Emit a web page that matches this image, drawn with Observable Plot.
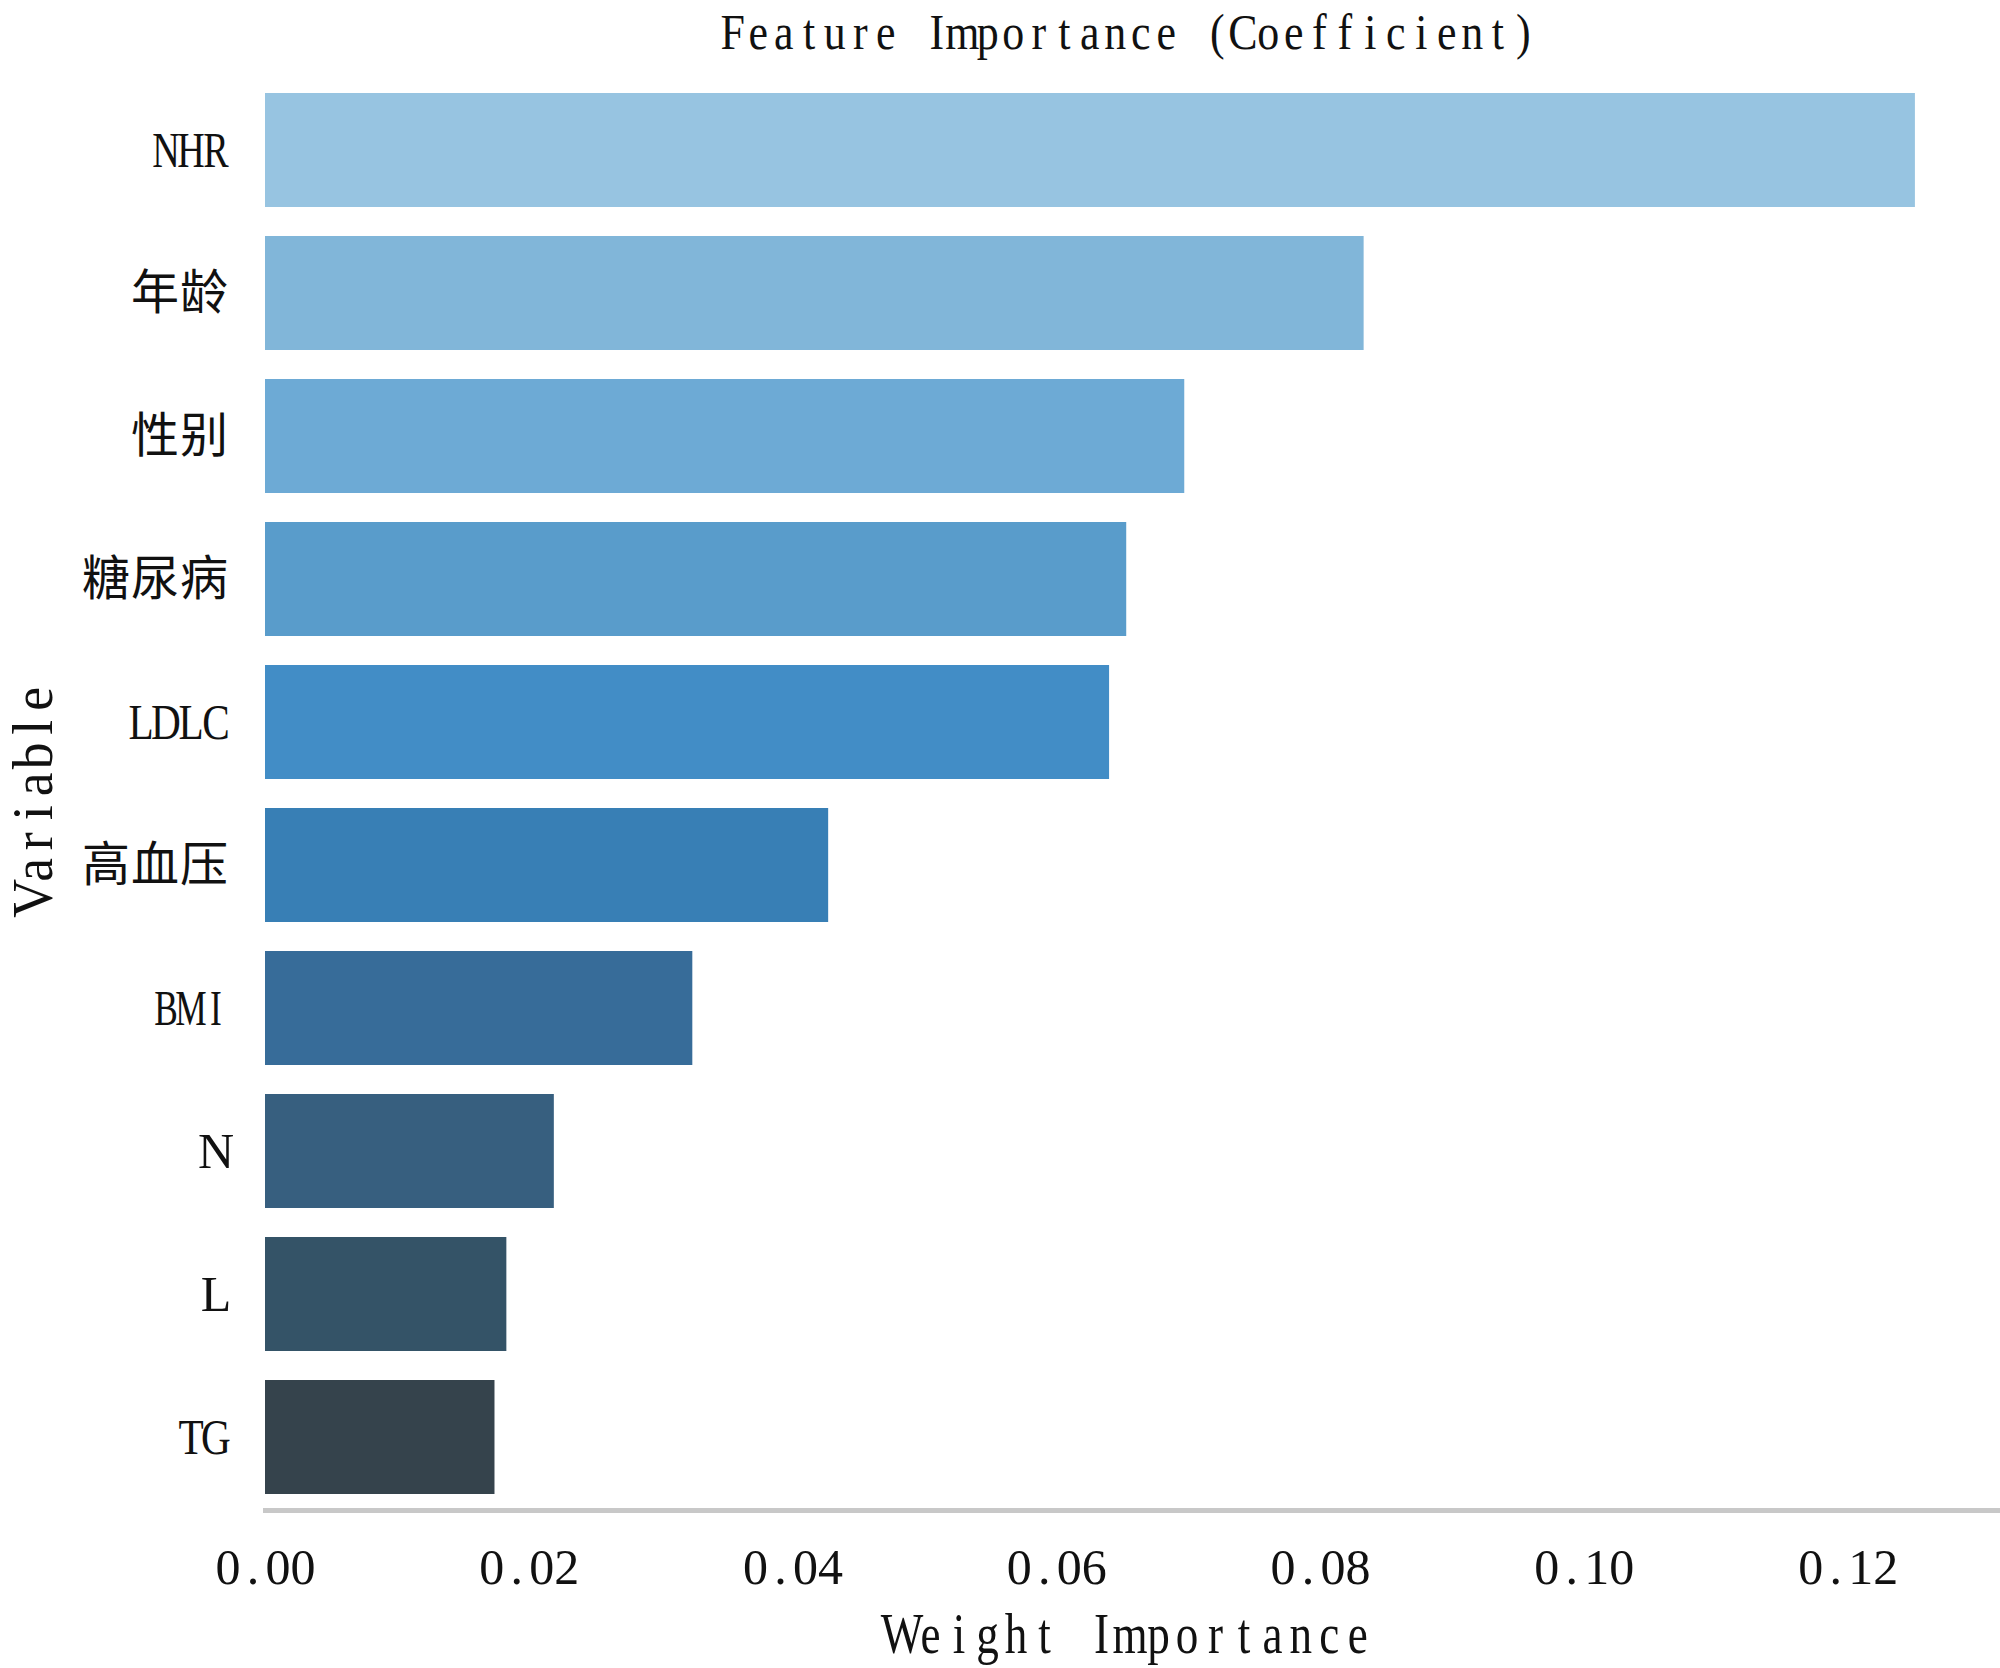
<!DOCTYPE html>
<html>
<head>
<meta charset="utf-8">
<script src="https://cdn.jsdelivr.net/npm/d3@7"></script>
<script src="https://cdn.jsdelivr.net/npm/@observablehq/plot@0.6"></script>
<style>
  html, body { margin: 0; padding: 0; background: #fff; }
  #chart svg { display: block; }
</style>
</head>
<body>
<div id="chart"></div>
<script>
// ---- data ----
const variables = ["NHR", "年龄", "性别", "糖尿病", "LDLC", "高血压", "BMI", "N", "L", "TG"];
const importance = [0.1251, 0.0833, 0.0697, 0.0653, 0.0640, 0.0427, 0.0324, 0.0219, 0.0183, 0.0174];
const xTicks = [0, 0.02, 0.04, 0.06, 0.08, 0.10, 0.12];
const titleText = "Feature Importance (Coefficient)";
const xLabel = "Weight Importance";
const yLabel = "Variable";
// palette (seaborn Blues_d style)
const palette = ["#97c4e1", "#81b6d9", "#6daad5", "#599ccb", "#428dc6", "#387fb5", "#376c99", "#375f7f", "#345367", "#35434c"];

const data = variables.map((v, i) => ({variable: v, value: importance[i]}));

const serifFont = "'Liberation Serif', 'Noto Sans CJK SC', serif";
const cjkFont = "'Noto Sans CJK SC', sans-serif";

const chart = Plot.plot({
  width: 2000,
  height: 1668,
  marginLeft: 265,
  marginRight: 2,
  marginTop: 78,
  marginBottom: 158,
  style: {fontFamily: serifFont, background: "#fff", color: "#111"},
  x: {domain: [0, 0.1314], ticks: xTicks, tickFormat: d3.format(".2f")},
  y: {domain: variables, paddingInner: 0.2, paddingOuter: 0.1, align: 0.5},
  color: {domain: variables, range: palette},
  marks: [
    Plot.barX(data, {x: "value", y: "variable", fill: "variable"}),
    Plot.frame({anchor: "bottom", stroke: "#c8c8c8", strokeWidth: 5}),
    Plot.axisX({ticks: xTicks, tickFormat: d3.format(".2f"), tickSize: 0, tickPadding: 38, fontSize: 50, label: null}),
    Plot.axisY({tickSize: 0, tickPadding: 37, fontSize: 50, label: null}),
    Plot.text([titleText], {frameAnchor: "top", dy: -46, fontSize: 51, lineAnchor: "middle", textAnchor: "middle", dx: -4}),
    Plot.text([xLabel], {frameAnchor: "bottom", dy: 124, fontSize: 57, lineAnchor: "middle", textAnchor: "middle", dx: -2}),
    Plot.text([yLabel], {frameAnchor: "left", dx: -232, dy: 4, rotate: -90, fontSize: 57, lineAnchor: "middle", textAnchor: "middle"})
  ]
});

document.getElementById("chart").appendChild(chart);

// emulate a monospaced SimSun-like layout: each Latin character gets a half-width cell,
// each CJK character a full-width cell; a text is narrowed so neighbouring glyphs don't collide.
const isCJK = c => /[\u2e80-\u9fff\uf900-\ufaff\uff00-\uffef]/.test(c);
const svgNS = "http://www.w3.org/2000/svg";
const probe = document.createElementNS(svgNS, "text");
probe.setAttribute("x", -9999); probe.setAttribute("y", -9999);
chart.appendChild(probe);
const texts = [];
d3.select(chart).selectAll("text").each(function() { if (this !== probe) texts.push(this); });
texts.forEach(el => {
  const s = el.textContent;
  if (!s) return;
  const chars = Array.from(s);
  const hasCJK = chars.some(isCJK);
  if (hasCJK) { el.style.fontFamily = cjkFont; el.style.fontSize = "48px"; }
  const cs = getComputedStyle(el);
  const fs = parseFloat(cs.fontSize);
  const anchor = cs.textAnchor;
  probe.style.fontFamily = cs.fontFamily;
  probe.style.fontSize = cs.fontSize;
  const nat = chars.map(c => { probe.textContent = c; return probe.getComputedTextLength(); });
  const cell = hasCJK ? 24.5 : fs / 2;
  const widths = chars.map(c => isCJK(c) ? 2 * cell : cell);
  let sx = 1;
  for (let i = 0; i + 1 < chars.length; i++) {
    if (chars[i] === " " || chars[i + 1] === " ") continue;
    const room = (widths[i] + widths[i + 1]) / 2 * 1.1;
    const need = (nat[i] + nat[i + 1]) / 2;
    if (need > room) sx = Math.min(sx, room / need);
  }
  const total = d3.sum(widths);
  let pos = anchor === "middle" ? -total / 2 : anchor === "end" ? -total : 0;
  const xs = [];
  widths.forEach(w => { xs.push((pos + w / 2) / sx); pos += w; });
  el.setAttribute("x", xs.map(v => v.toFixed(2)).join(" "));
  el.setAttribute("text-anchor", "middle");
  if (sx < 1) {
    const tr = el.getAttribute("transform") || "";
    el.setAttribute("transform", (tr + ` scale(${sx.toFixed(3)},1)`).trim());
  }
});
probe.remove();
</script>
</body>
</html>
